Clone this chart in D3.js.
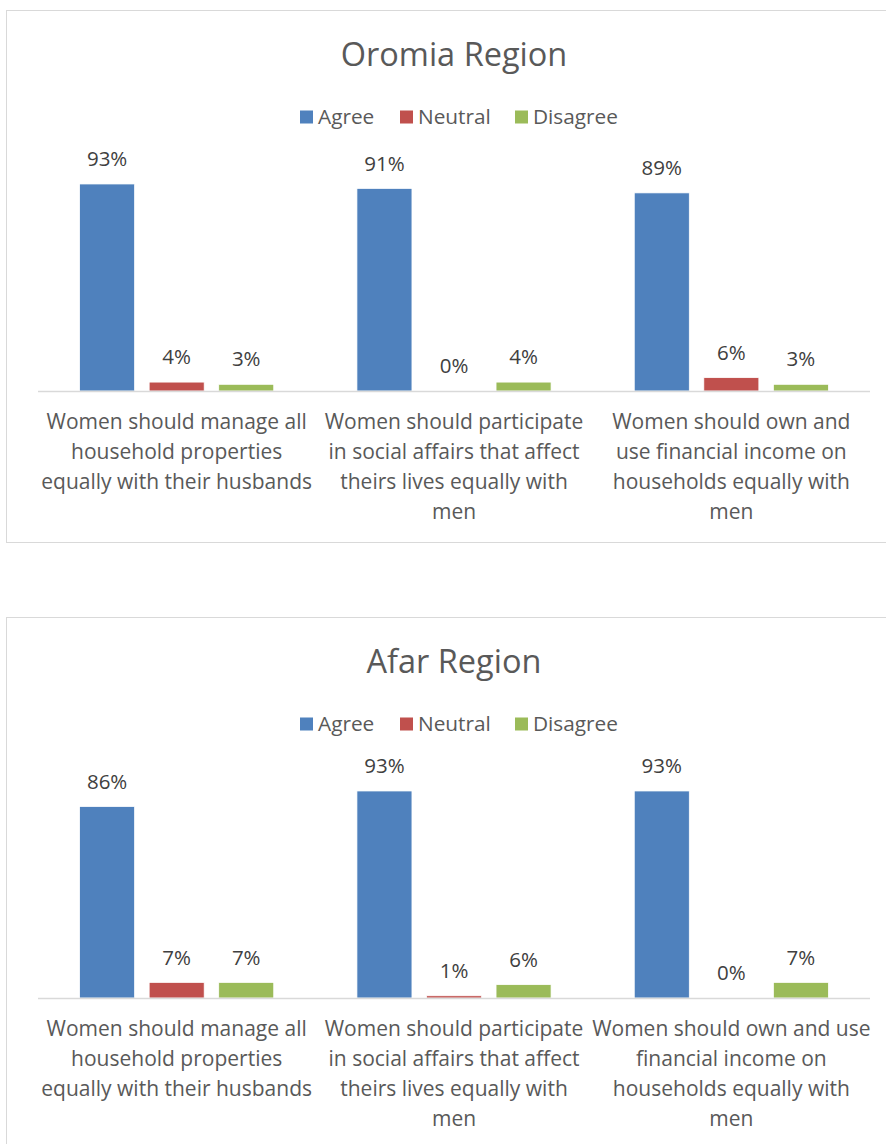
<!DOCTYPE html>
<html>
<head>
<meta charset="utf-8">
<script src="https://cdn.jsdelivr.net/npm/d3@7"></script>
<style>
  body { margin: 0; background: #fff; }
  text { font-family: "Open Sans", Lato, sans-serif; fill: #595959; }
</style>
</head>
<body>
<div id="chart"></div>
<script>
// Data
var series = ["Agree", "Neutral", "Disagree"];
var colors = ["#4f81bd", "#c0504d", "#9bbb59"];
var categories = ["manage", "participate", "income"];

var oromiaAgree = [0.93, 0.91, 0.89],
    oromiaNeutral = [0.04, 0.00, 0.06],
    oromiaDisagree = [0.03, 0.04, 0.03];

var afarAgree = [0.86, 0.93, 0.93],
    afarNeutral = [0.07, 0.01, 0.00],
    afarDisagree = [0.07, 0.06, 0.07];

// Category labels, already wrapped line by line as in the picture
var oromiaLabels = [
  ["Women should manage all", "household properties", "equally with their husbands"],
  ["Women should participate", "in social affairs that affect", "theirs lives equally with", "men"],
  ["Women should own and", "use financial income on", "households equally with", "men"]
];
var afarLabels = [
  ["Women should manage all", "household properties", "equally with their husbands"],
  ["Women should participate", "in social affairs that affect", "theirs lives equally with", "men"],
  ["Women should own and use", "financial income on", "households equally with", "men"]
];

var W = 886, H = 1144;
var svg = d3.select("#chart").append("svg")
    .attr("width", W)
    .attr("height", H);

function drawChart(top, title, values, labels) {
  var g = svg.append("g").attr("transform", "translate(0," + top + ")");

  // chart frame
  g.append("rect")
      .attr("x", 6.5).attr("y", 0.5)
      .attr("width", 886).attr("height", 532)
      .attr("fill", "#fff")
      .attr("stroke", "#d9d9d9");

  // title
  g.append("text")
      .attr("x", 454).attr("y", 45)
      .attr("dy", "0.35em")
      .attr("text-anchor", "middle")
      .style("font-size", "32.5px")
      .text(title);

  // legend
  var legendX = [300, 400, 515];
  var leg = g.selectAll(".legend").data(series).enter().append("g")
      .attr("class", "legend")
      .attr("transform", function(d, i) { return "translate(" + legendX[i] + ",107)"; });
  leg.append("rect")
      .attr("x", 0).attr("y", -6.5)
      .attr("width", 13).attr("height", 13)
      .attr("fill", function(d, i) { return colors[i]; });
  leg.append("text")
      .attr("x", 18).attr("dy", "0.35em")
      .style("font-size", "20.8px")
      .text(function(d) { return d; });

  var base = 381;
  var x = d3.scaleBand().domain(categories).range([38, 870])
      .paddingInner(0.3).paddingOuter(0.15);
  var xs = d3.scaleBand().domain(series).range([0, x.bandwidth()])
      .paddingInner(0.209).paddingOuter(0);
  var y = d3.scaleLinear().domain([0, 1]).range([base, base - 222.6]);

  var rows = [];
  categories.forEach(function(c, ci) {
    series.forEach(function(s, si) {
      rows.push({cat: c, ser: s, si: si, v: values[si][ci]});
    });
  });

  g.selectAll(".bar").data(rows).enter().append("rect")
      .attr("class", "bar")
      .attr("x", function(d) { return x(d.cat) + xs(d.ser); })
      .attr("width", xs.bandwidth())
      .attr("y", function(d) { return y(d.v); })
      .attr("height", function(d) { return base - y(d.v); })
      .attr("fill", function(d) { return colors[d.si]; })
      .attr("stroke", "#fff")
      .attr("stroke-width", 0.75);

  g.selectAll(".val").data(rows).enter().append("text")
      .attr("class", "val")
      .attr("x", function(d) { return x(d.cat) + xs(d.ser) + xs.bandwidth() / 2; })
      .attr("y", function(d) { return y(d.v) - 25; })
      .attr("dy", "0.35em")
      .attr("text-anchor", "middle")
      .style("font-size", "20.5px")
      .style("fill", "#404040")
      .text(function(d) { return d3.format(".0%")(d.v); });

  // category axis line
  g.append("line")
      .attr("x1", 38).attr("x2", 870)
      .attr("y1", base + 0.5).attr("y2", base + 0.5)
      .attr("stroke", "#d9d9d9")
      .attr("stroke-width", 1.5);

  // category labels
  categories.forEach(function(c, ci) {
    var t = g.append("text")
        .attr("text-anchor", "middle")
        .style("font-size", "21px");
    labels[ci].forEach(function(line, li) {
      t.append("tspan")
          .attr("x", x(c) + x.bandwidth() / 2)
          .attr("y", base + 31 + li * 30)
          .attr("dy", "0.35em")
          .text(line);
    });
  });
}

drawChart(10, "Oromia Region", [oromiaAgree, oromiaNeutral, oromiaDisagree], oromiaLabels);
drawChart(617, "Afar Region", [afarAgree, afarNeutral, afarDisagree], afarLabels);
</script>
</body>
</html>
